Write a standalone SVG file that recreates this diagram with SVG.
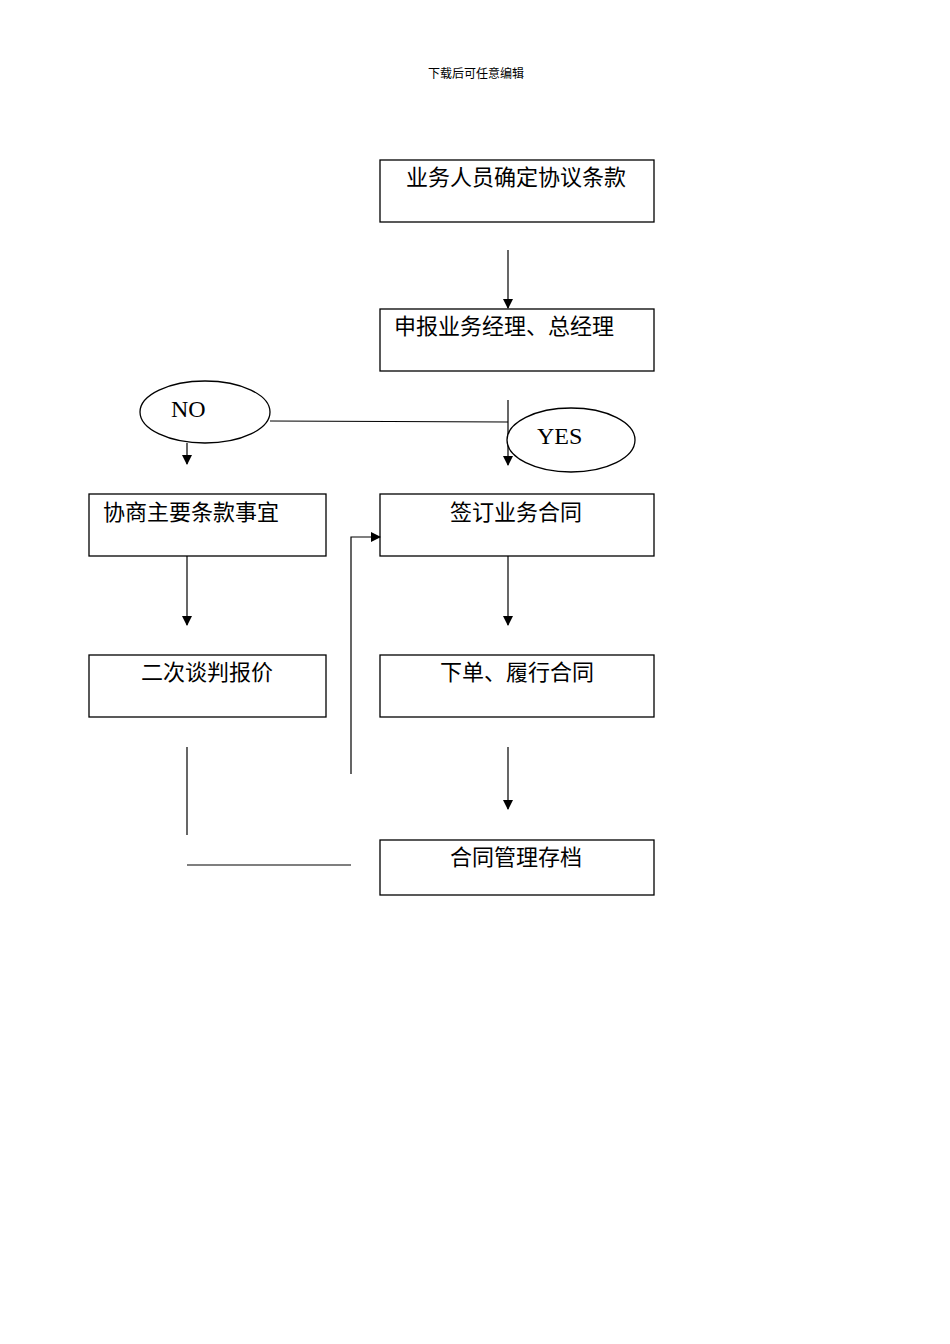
<svg xmlns="http://www.w3.org/2000/svg" width="950" height="1344" viewBox="0 0 950 1344">
<style>
.b{fill:#fff;stroke:#000;stroke-width:1.3}
.t{font-family:"Noto Sans CJK SC","Liberation Serif",serif;font-size:22px;fill:#000}
.e{font-family:"Liberation Serif",serif;font-size:24px;fill:#000}
.c{fill:none;stroke:#000;stroke-width:1.2}
</style>
<defs><marker id="a" markerWidth="10" markerHeight="10" refX="9" refY="5" orient="auto" markerUnits="userSpaceOnUse"><path d="M0,0L10,5L0,10Z" fill="#000"/></marker></defs>
<rect width="950" height="1344" fill="#fff"/>
<text x="476" y="78" text-anchor="middle" style="font-family:'Noto Sans CJK SC',sans-serif;font-size:12px">下载后可任意编辑</text>
<g id="n1"><rect class="b" x="380" y="160" width="274" height="62"/><text class="t" x="406" y="185">业务人员确定协议条款</text></g>
<g id="n2"><rect class="b" x="380" y="309" width="274" height="62"/><text class="t" x="394" y="334">申报业务经理、总经理</text></g>
<g id="no"><ellipse class="b" cx="205" cy="412" rx="65" ry="31"/><text class="e" x="171" y="417">NO</text></g>
<g id="n3"><rect class="b" x="89" y="494" width="237" height="62"/><text class="t" x="103" y="520">协商主要条款事宜</text></g>
<g id="n4"><rect class="b" x="380" y="494" width="274" height="62"/><text class="t" x="450" y="520">签订业务合同</text></g>
<g id="n5"><rect class="b" x="89" y="655" width="237" height="62"/><text class="t" x="141" y="680">二次谈判报价</text></g>
<g id="n6"><rect class="b" x="380" y="655" width="274" height="62"/><text class="t" x="440" y="680">下单、履行合同</text></g>
<g id="n7"><rect class="b" x="380" y="840" width="274" height="55"/><text class="t" x="450" y="865">合同管理存档</text></g>
<g id="connectors">
<path class="c" d="M508,250V308" marker-end="url(#a)"/>
<path class="c" d="M270,421L508,422"/>
<path class="c" d="M508,400V465" marker-end="url(#a)"/>
<path class="c" d="M187,443V464" marker-end="url(#a)"/>
<path class="c" d="M187,556V625" marker-end="url(#a)"/>
<path class="c" d="M508,556V625" marker-end="url(#a)"/>
<path class="c" d="M351,774V537H380" marker-end="url(#a)"/>
<path class="c" d="M508,747V809" marker-end="url(#a)"/>
<path class="c" d="M187,747V835"/>
<path class="c" d="M187,865H351"/>
</g>
<g id="yes"><ellipse class="b" cx="571" cy="440" rx="64" ry="32"/><text class="e" x="537" y="444">YES</text></g>
</svg>
